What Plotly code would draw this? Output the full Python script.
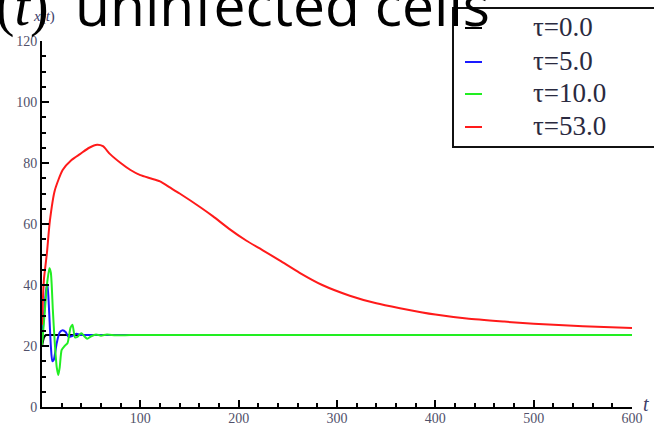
import plotly.graph_objects as go

# --- data: x(t), uninfected cells, for several delays tau ---
t_tau0 = [0, 1, 2, 4, 8, 20, 100, 300, 600]
x_tau0 = [20, 21.5, 22.8, 23.6, 23.6, 23.6, 23.6, 23.6, 23.6]

t_tau5 = [0, 2, 4, 5.5, 7, 9, 10.5, 12, 15, 18, 21, 24, 27, 30, 35, 40, 50, 100, 300, 600]
x_tau5 = [22, 30, 38, 40.5, 33, 20, 15, 15.5, 21, 24.5, 25.2, 24.6, 23, 23.2, 24, 23.6,
          23.6, 23.6, 23.6, 23.6]

t_tau10 = [0, 3, 5, 7.5, 9, 11, 13, 15, 16.6, 18, 20, 23, 26, 29, 31, 33.6, 36,
           40, 43, 46, 50, 55, 60, 66, 75, 90, 120, 300, 600]
x_tau10 = [20, 32, 40, 45.5, 44, 32, 21, 13, 10.5, 13, 18.7, 20, 21, 26, 27, 22.8, 23,
           24.2, 23.2, 22.4, 23.2, 23.8, 23.4, 23.8, 23.5, 23.6, 23.6, 23.6, 23.6]

t_tau53 = [0, 1, 2, 5, 8, 13, 21, 30, 39, 48, 56, 62, 69, 80, 90, 100, 110, 120, 130,
           140, 161, 174, 190, 208, 225, 242, 262, 285, 313, 340, 364, 400, 432, 470,
           500, 550, 600]
x_tau53 = [27, 36, 42, 50.5, 61, 71, 77.7, 81, 83, 85, 86, 85.5, 83, 80, 77.7, 76, 75,
           74, 72, 70, 65.5, 62.5, 58.5, 54.5, 51.3, 48, 44, 40, 36.5, 34, 32.4, 30.3,
           29, 28, 27.3, 26.5, 25.9]

series_names = ["τ=0.0", "τ=5.0", "τ=10.0", "τ=53.0"]
series_colors = ["#000000", "#1a1aff", "#22ee22", "#ff1a1a"]
series_t = [t_tau0, t_tau5, t_tau10, t_tau53]
series_x = [x_tau0, x_tau5, x_tau10, x_tau53]

x_ticks = [100, 200, 300, 400, 500, 600]
y_ticks = [0, 20, 40, 60, 80, 100, 120]

W, H = 654, 427
ML, MR, MT, MB = 42, 22, 41, 20


def px(xp):
    return (xp - ML) / (W - ML - MR)


def py(yp):
    return (H - MB - yp) / (H - MT - MB)


fig = go.Figure()
for name, col, tt, xx in zip(series_names, series_colors, series_t, series_x):
    fig.add_trace(go.Scatter(x=tt, y=xx, mode="lines", name=name,
                             line=dict(color=col, width=2, shape="spline", smoothing=0.6),
                             showlegend=False, cliponaxis=False))

tick_font = dict(family="Liberation Serif", size=14, color="#50506a")

fig.update_xaxes(range=[0, 600], tickvals=x_ticks, showline=True, linecolor="black",
                 linewidth=2, ticks="inside", ticklen=7, tickwidth=1.5, tickcolor="black",
                 showgrid=False, zeroline=False, tickfont=tick_font, ticklabelstandoff=-3,
                 minor=dict(ticks="inside", ticklen=4, tickwidth=1.5, tickcolor="black",
                            dtick=20, tick0=0, showgrid=False))
fig.update_yaxes(range=[0, 120], tickvals=y_ticks, showline=True, linecolor="black",
                 linewidth=2, ticks="inside", ticklen=7, tickwidth=1.5, tickcolor="black",
                 showgrid=False, zeroline=False, tickfont=tick_font,
                 minor=dict(ticks="inside", ticklen=4, tickwidth=1.5, tickcolor="black",
                            dtick=5, tick0=0, showgrid=False))

shapes = []
annotations = []

# legend box
shapes.append(dict(type="rect", xref="paper", yref="paper",
                   x0=px(453), x1=px(700), y0=py(147), y1=py(8),
                   line=dict(color="#111111", width=2), fillcolor="white", layer="above"))
row_y = [28, 62, 94, 127]
for name, col, ry in zip(series_names, series_colors, row_y):
    shapes.append(dict(type="line", xref="paper", yref="paper",
                       x0=px(465), x1=px(482), y0=py(ry), y1=py(ry),
                       line=dict(color=col, width=2), layer="above"))
    annotations.append(dict(text=name, xref="paper", yref="paper", x=px(531), y=py(ry - 1),
                            xanchor="left", yanchor="middle", showarrow=False,
                            font=dict(family="Liberation Serif", size=27, color="#2a2a40")))

# axis labels
annotations.append(dict(text="<i>t</i>", xref="paper", yref="paper", x=px(646), y=py(404),
                        xanchor="center", yanchor="middle", showarrow=False,
                        font=dict(family="Liberation Serif", size=20, color="#40406a")))
annotations.append(dict(text="<i>x</i>(<i>t</i>)", xref="paper", yref="paper", x=px(44), y=py(16),
                        xanchor="center", yanchor="middle", showarrow=False,
                        font=dict(family="Liberation Serif", size=15, color="#40406a")))

# slide heading
annotations.append(dict(text="<i>x</i>(<i>t</i>)", xref="paper", yref="paper", x=px(51), y=py(6),
                        xanchor="right", yanchor="middle", showarrow=False,
                        font=dict(family="Liberation Serif", size=56, color="black")))
annotations.append(dict(text="uninfected cells", xref="paper", yref="paper", x=px(73), y=py(4),
                        xanchor="left", yanchor="middle", showarrow=False,
                        font=dict(family="Open Sans", size=57, color="black")))

fig.update_layout(width=W, height=H, margin=dict(l=ML, r=MR, t=MT, b=MB, autoexpand=False),
                  plot_bgcolor="white", paper_bgcolor="white",
                  shapes=shapes, annotations=annotations, showlegend=False)

fig.write_html("out.html")
